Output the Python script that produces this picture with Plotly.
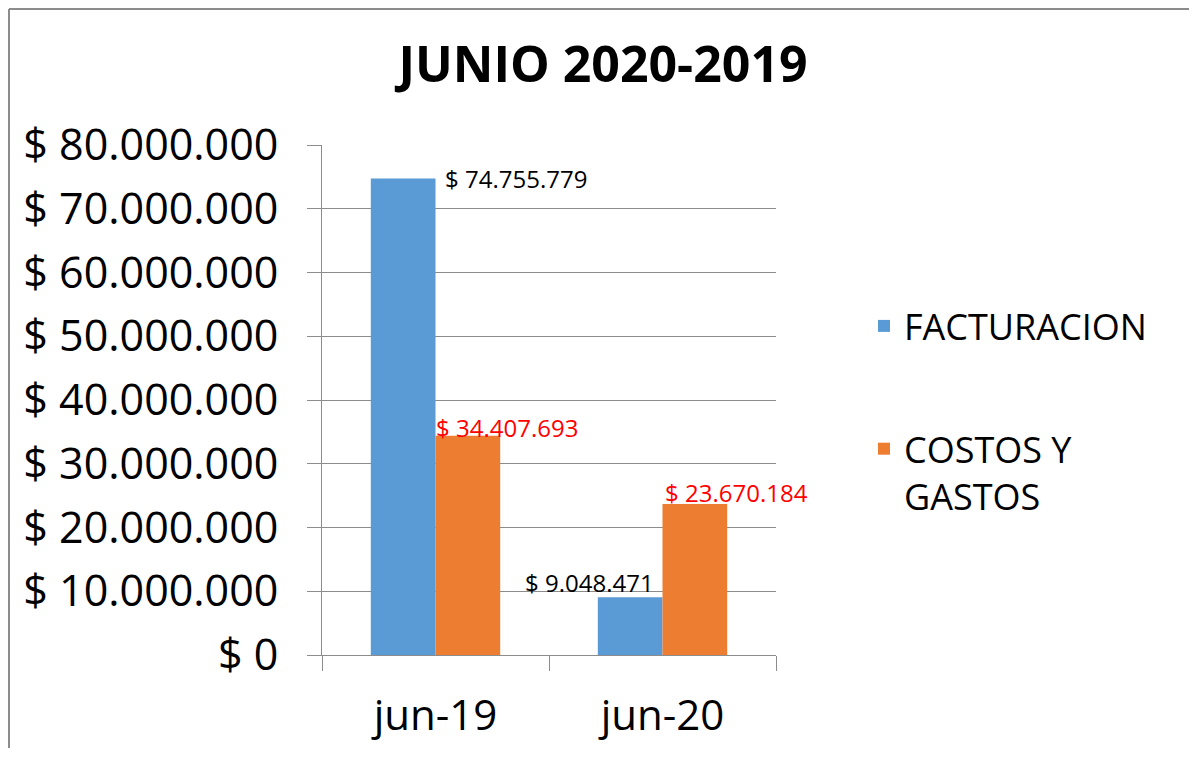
import plotly.graph_objects as go

categories = ["jun-19", "jun-20"]
facturacion = [74755779, 9048471]
costos_gastos = [34407693, 23670184]
series_names = ["FACTURACION", "COSTOS Y<br>GASTOS"]
title_text = "JUNIO 2020-2019"

def fmt(v):
    return "$ " + f"{v:,}".replace(",", ".")

FONT = "Open Sans"
GRID = "#8c8c8c"
OFF = 8  # page body margin
FW, FH = 1182, 741  # figure size that fits the window without scrollbars

fig = go.Figure()
fig.add_trace(go.Bar(x=categories, y=facturacion, name=series_names[0],
                     marker=dict(color="#5B9BD5", line=dict(width=0)),
                     legendgroup="a"))
fig.add_trace(go.Bar(x=categories, y=costos_gastos, name=series_names[1],
                     marker=dict(color="#ED7D31", line=dict(width=0)),
                     legendgroup="b"))

# data labels
label_specs = [
    (categories[0], facturacion[0], 7, 0, "left", "black"),
    (categories[0], costos_gastos[0], 71, 8, "center", "#FF0000"),
    (categories[1], facturacion[1], -73, 15, "center", "black"),
    (categories[1], costos_gastos[1], 74, 12, "center", "#FF0000"),
]
for cat, val, xs, ys, xa, col in label_specs:
    fig.add_annotation(x=cat, y=val, text=fmt(val), showarrow=False,
                       xshift=xs, yshift=ys, xanchor=xa, yanchor="middle",
                       font=dict(family=FONT, size=24, color=col))

# plot area in screen pixels: x 322..776, y 145..655
L, T = 322 - OFF, 145 - OFF
R = FW - (776 - OFF)
B = FH - (655 - OFF)
W, H = FW - L - R, FH - T - B

def px(sx):
    return (sx - OFF - L) / W

def py(sy):
    return (T + H - (sy - OFF)) / H

# chart border (top and left edges visible in the frame)
fig.add_shape(type="line", xref="paper", yref="paper",
              x0=px(9), x1=px(OFF + FW - 1), y0=py(9), y1=py(9),
              line=dict(color=GRID, width=2), layer="below")
fig.add_shape(type="line", xref="paper", yref="paper",
              x0=px(9), x1=px(9), y0=py(9), y1=py(OFF + FH - 1),
              line=dict(color=GRID, width=2), layer="below")

fig.update_layout(
    width=FW, height=FH,
    margin=dict(l=L, r=R, t=T, b=B, autoexpand=False),
    paper_bgcolor="white", plot_bgcolor="white",
    separators=",.",
    barmode="group", bargap=0.43, bargroupgap=0,
    title=dict(text="<b>" + title_text + "</b>", x=(603 - OFF) / FW, xanchor="center",
               y=1 - (64 - OFF) / FH, yanchor="middle", yref="container",
               font=dict(family=FONT, size=50, color="black")),
    font=dict(family=FONT, color="black"),
    legend=dict(x=px(864), xanchor="left", y=py(296), yanchor="top",
                font=dict(family=FONT, size=36, color="black"),
                traceorder="grouped", tracegroupgap=73, valign="top",
                bgcolor="rgba(0,0,0,0)"),
    showlegend=True,
)
fig.update_yaxes(range=[0, 80000000], dtick=10000000, tickformat=",d",
                 tickprefix="$ ", showgrid=True, gridcolor=GRID, gridwidth=1,
                 showline=True, linecolor=GRID, linewidth=1,
                 ticks="outside", ticklen=14, tickcolor=GRID, automargin=False,
                 ticklabelstandoff=20, zeroline=False,
                 tickfont=dict(family=FONT, size=43, color="black"))
fig.update_xaxes(range=[-0.5, 1.5], showline=True, linecolor=GRID, linewidth=1,
                 ticks="outside", ticklen=15, tickcolor=GRID, tickson="boundaries",
                 ticklabelstandoff=24, automargin=False,
                 tickfont=dict(family=FONT, size=42, color="black"))

fig.write_html("out.html")
